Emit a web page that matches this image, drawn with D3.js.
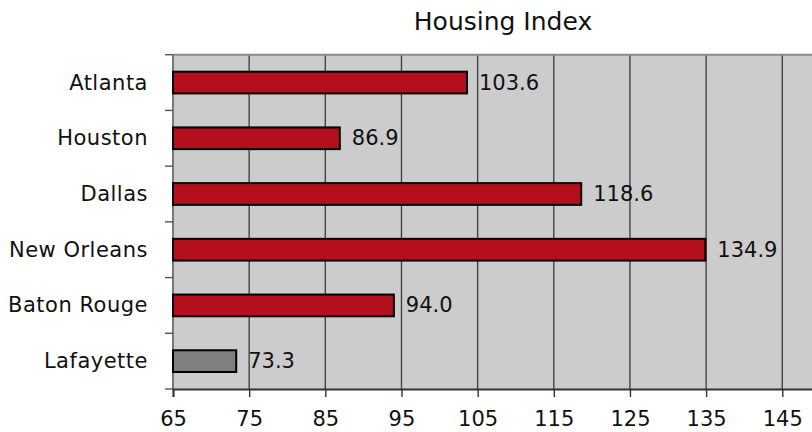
<!DOCTYPE html>
<html><head><meta charset="utf-8">
<script src="https://cdn.jsdelivr.net/npm/d3@7"></script>
<style>body{margin:0;background:#fff}svg{display:block}text{font-family:"DejaVu Sans",sans-serif;fill:#111}</style>
</head><body>
<svg id="c" width="812" height="432"></svg>
<script>
const categories = ["Atlanta","Houston","Dallas","New Orleans","Baton Rouge","Lafayette"];
const values = [103.6, 86.9, 118.6, 134.9, 94.0, 73.3];
const barColors = ["#B30F1C","#B30F1C","#B30F1C","#B30F1C","#B30F1C","#808080"];
const tickValues = [65,75,85,95,105,115,125,135,145];
const title = "Housing Index";

const svg = d3.select("#c");
const pLeft = 173, pTop = 54.7, pBottom = 389;
const x = d3.scaleLinear().domain([65,155]).range([pLeft, pLeft + 90*7.616]);
const y = d3.scaleBand().domain(categories).range([pTop,pBottom]).paddingInner(0.61).paddingOuter(0.305);
const step = y.step();

svg.append("rect").attr("x",pLeft).attr("y",pTop).attr("width",812-pLeft).attr("height",pBottom-pTop).attr("fill","#CCCCCC");
svg.selectAll(".grid").data(tickValues.slice(1)).enter().append("line")
  .attr("x1",d=>x(d)).attr("x2",d=>x(d)).attr("y1",pTop).attr("y2",pBottom)
  .attr("stroke","#444").attr("stroke-width",1.4);
svg.append("line").attr("x1",pLeft).attr("x2",812).attr("y1",pTop).attr("y2",pTop).attr("stroke","#8a8a8a").attr("stroke-width",2);
svg.append("line").attr("x1",pLeft).attr("x2",pLeft).attr("y1",pTop).attr("y2",pBottom).attr("stroke","#777").attr("stroke-width",2);
const bounds = d3.range(categories.length+1).map(i=>pTop+i*step);
svg.selectAll(".yt").data(bounds).enter().append("line")
  .attr("x1",pLeft-8).attr("x2",pLeft).attr("y1",d=>d).attr("y2",d=>d).attr("stroke","#555").attr("stroke-width",1.4);

svg.selectAll(".bar").data(categories).enter().append("rect")
  .attr("x",x(65)).attr("y",d=>y(d))
  .attr("width",(d,i)=>x(values[i])-x(65)).attr("height",y.bandwidth())
  .attr("fill",(d,i)=>barColors[i]).attr("stroke","#000").attr("stroke-width",2);

svg.selectAll(".vl").data(categories).enter().append("text")
  .attr("x",(d,i)=>x(values[i])+12).attr("y",d=>y(d)+y.bandwidth()/2)
  .attr("dominant-baseline","central").attr("font-size",21)
  .text((d,i)=>values[i].toFixed(1));

svg.selectAll(".cl").data(categories).enter().append("text")
  .attr("x",148).attr("y",d=>y(d)+y.bandwidth()/2)
  .attr("text-anchor","end").attr("dominant-baseline","central").attr("font-size",21).attr("letter-spacing",0.5)
  .text(d=>d);

const xAxis = d3.axisBottom(x).tickValues(tickValues).tickSize(8).tickFormat(d3.format("d"));
const ax = svg.append("g").attr("transform",`translate(0,${pBottom})`).call(xAxis);
ax.select(".domain").attr("stroke","#333").attr("stroke-width",2);
ax.selectAll(".tick line").attr("stroke","#333").attr("stroke-width",1.4);
ax.selectAll(".tick text").attr("font-size",21).attr("font-family","DejaVu Sans").attr("fill","#111").attr("dy",0).attr("y",37);

svg.append("text").attr("x",503).attr("y",30).attr("text-anchor","middle").attr("font-size",25).text(title);
</script>
</body></html>
